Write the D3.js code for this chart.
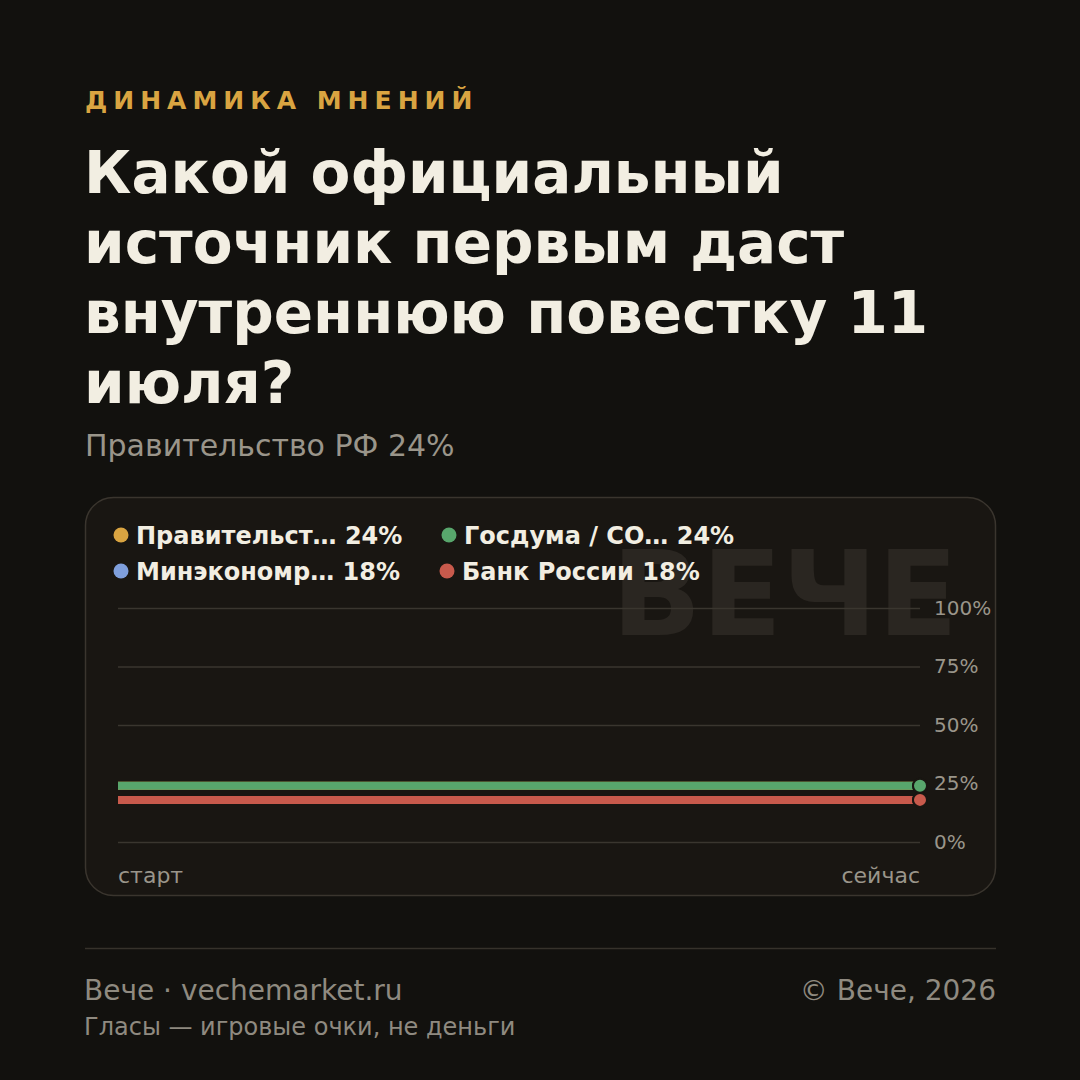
<!DOCTYPE html>
<html>
<head>
<meta charset="utf-8">
<script src="https://cdn.jsdelivr.net/npm/d3@7"></script>
<style>
  html, body { margin: 0; padding: 0; background: #12110e; }
  svg { display: block; font-family: "DejaVu Sans", sans-serif; }
</style>
</head>
<body>
<svg id="chart" width="1080" height="1080"></svg>
<script>
// series data
const seriesNames = ["Правительст… 24%", "Госдума / СО… 24%", "Минэкономр… 18%", "Банк России 18%"];
const seriesColors = ["#d9a441", "#58a66c", "#7f9fdc", "#c85a4c"];
const seriesValues = [
  [24, 24],
  [24, 24],
  [18, 18],
  [18, 18]
];
const xLabels = ["старт", "сейчас"];
const yTicks = [0, 25, 50, 75, 100];
const titleLines = ["Какой официальный", "источник первым даст", "внутреннюю повестку 11", "июля?"];

const svg = d3.select("#chart");

svg.append("rect").attr("width", 1080).attr("height", 1080).attr("fill", "#12110e");

// header
svg.append("text")
  .attr("x", 85).attr("y", 109)
  .attr("fill", "#d9a441")
  .attr("font-size", 25).attr("font-weight", "bold")
  .attr("letter-spacing", 6)
  .text("ДИНАМИКА МНЕНИЙ");

svg.append("g").selectAll("text")
  .data(titleLines)
  .enter().append("text")
  .attr("x", 84)
  .attr("y", (d, i) => 193 + i * 70)
  .attr("fill", "#f2eee2")
  .attr("font-size", 58).attr("font-weight", "bold")
  .text(d => d);

svg.append("text")
  .attr("x", 85).attr("y", 456)
  .attr("fill", "#9a958a")
  .attr("font-size", 30)
  .text("Правительство РФ 24%");

// card
svg.append("rect")
  .attr("x", 85.5).attr("y", 497.5)
  .attr("width", 910).attr("height", 398)
  .attr("rx", 28)
  .attr("fill", "#191612")
  .attr("stroke", "#3a352e")
  .attr("stroke-width", 1.5);

// watermark
svg.append("text")
  .attr("x", 958).attr("y", 635)
  .attr("text-anchor", "end")
  .attr("fill", "#2a2621")
  .attr("font-size", 118).attr("font-weight", "bold")
  .text("ВЕЧЕ");

// scales
const x = d3.scaleLinear().domain([0, 1]).range([118, 920]);
const y = d3.scaleLinear().domain([0, 100]).range([842, 608]);

// grid
const yAxis = d3.axisRight(y).tickValues(yTicks).tickSize(802).tickFormat(d => d + "%");
const gAxis = svg.append("g")
  .attr("transform", "translate(118,0)")
  .call(yAxis);
gAxis.select(".domain").remove();
gAxis.selectAll(".tick line").attr("stroke", "#3a362f").attr("stroke-width", 1.5);
gAxis.selectAll(".tick text")
  .attr("x", 816)
  .attr("fill", "#9a958a")
  .attr("font-size", 20)
  .attr("font-family", "DejaVu Sans, sans-serif");

// x labels
svg.append("g").selectAll("text")
  .data(xLabels)
  .enter().append("text")
  .attr("x", (d, i) => x(i))
  .attr("y", 883)
  .attr("text-anchor", (d, i) => i === 0 ? "start" : "end")
  .attr("fill", "#9a958a")
  .attr("font-size", 22)
  .text(d => d);

// lines
const line = d3.line().x((d, i) => x(i)).y(d => y(d));
const series = seriesNames.map((n, i) => ({ name: n, color: seriesColors[i], values: seriesValues[i] }));

svg.append("g").selectAll("path")
  .data(series)
  .enter().append("path")
  .attr("d", d => line(d.values))
  .attr("fill", "none")
  .attr("stroke", d => d.color)
  .attr("stroke-width", 8);

svg.append("g").selectAll("circle")
  .data(series)
  .enter().append("circle")
  .attr("cx", d => x(d.values.length - 1))
  .attr("cy", d => y(d.values[d.values.length - 1]))
  .attr("r", 7)
  .attr("fill", d => d.color)
  .attr("stroke", "#191612")
  .attr("stroke-width", 2);

// legend
const legendPos = [[121, 535], [449, 535], [121, 571], [447, 571]];
const leg = svg.append("g").selectAll("g")
  .data(series)
  .enter().append("g")
  .attr("transform", (d, i) => `translate(${legendPos[i][0]},${legendPos[i][1]})`);
leg.append("circle").attr("r", 7.5).attr("fill", d => d.color);
leg.append("text")
  .attr("x", 15).attr("y", 8.5)
  .attr("fill", "#f2eee2")
  .attr("font-size", 24).attr("font-weight", "bold")
  .text(d => d.name);

// footer
svg.append("line")
  .attr("x1", 85).attr("x2", 996)
  .attr("y1", 948.5).attr("y2", 948.5)
  .attr("stroke", "#36322b").attr("stroke-width", 1.5);

svg.append("text")
  .attr("x", 84).attr("y", 1000)
  .attr("fill", "#8f8a80").attr("font-size", 28)
  .text("Вече · vechemarket.ru");

svg.append("text")
  .attr("x", 996).attr("y", 1000)
  .attr("text-anchor", "end")
  .attr("fill", "#8f8a80").attr("font-size", 28)
  .text("© Вече, 2026");

svg.append("text")
  .attr("x", 84).attr("y", 1035)
  .attr("fill", "#8f8a80").attr("font-size", 24)
  .text("Гласы — игровые очки, не деньги");
</script>
</body>
</html>
